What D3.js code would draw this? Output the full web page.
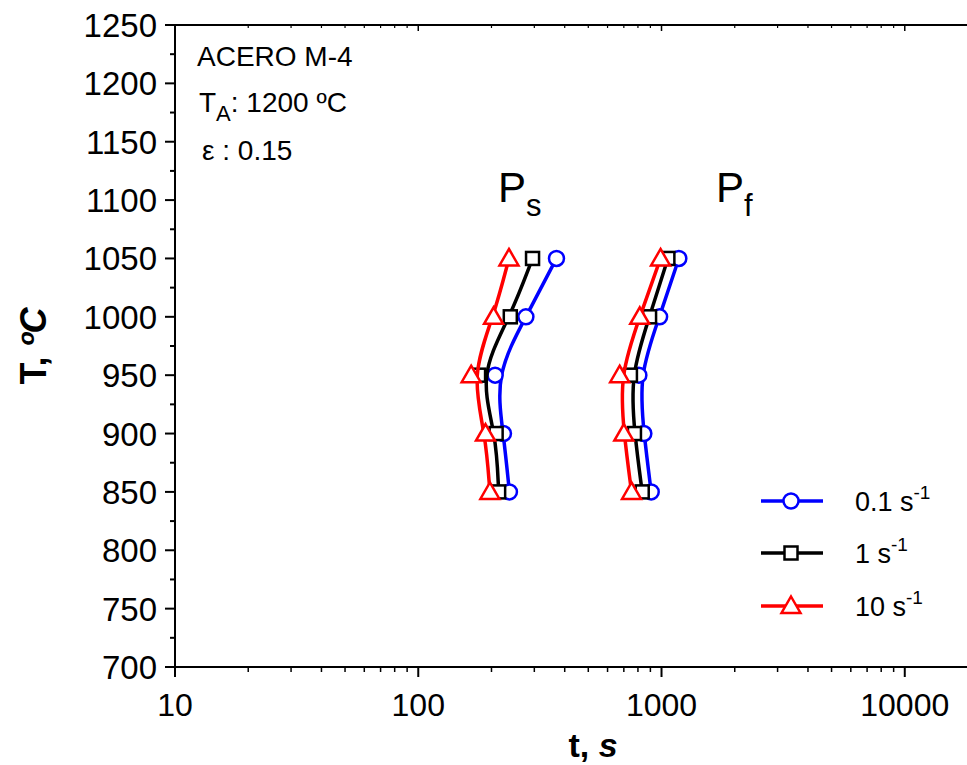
<!DOCTYPE html>
<html><head><meta charset="utf-8">
<script src="https://cdn.jsdelivr.net/npm/d3@7"></script>
<style>body{margin:0;background:#fff;} svg{display:block;font-family:Arial,"Liberation Sans",sans-serif;}</style>
</head><body>
<svg id="c" width="967" height="765"></svg>
<script>
const temps = [850, 900, 950, 1000, 1050];
const ps01 = [237, 224, 207, 277, 370];
const ps1  = [214, 209, 177, 239, 295];
const ps10 = [197, 189, 165, 204, 236];
const pf01 = [907, 846, 807, 982, 1178];
const pf1  = [833, 774, 745, 893, 1062];
const pf10 = [753, 700, 673, 814, 991];
const seriesNames = ["0.1", "1", "10"];
const seriesColors = ["#0000ff", "#000000", "#ff0000"];
const seriesShapes = ["circle", "square", "triangle"];
const xTicks = [10, 100, 1000, 10000];
const yTicks = [700,750,800,850,900,950,1000,1050,1100,1150,1200,1250];

const svg = d3.select("#c");
const x = d3.scaleLog().domain([10, 20000]).range([175, 978]);
const y = d3.scaleLinear().domain([700, 1250]).range([667, 25]);

const xMinor = [];
for (let d = 10; d < 20000; d *= 10) for (let k = 2; k <= 9; k++) if (d*k <= 20000) xMinor.push(d*k);
const yMinor = d3.range(725, 1250, 50);

const g = svg.append("g");
g.append("line").attr("x1", x(10)).attr("x2", 978).attr("y1", y(700)).attr("y2", y(700)).attr("stroke", "#000").attr("stroke-width", 2);
g.append("line").attr("x1", x(10)).attr("x2", 978).attr("y1", y(1250)).attr("y2", y(1250)).attr("stroke", "#000").attr("stroke-width", 2);
g.append("line").attr("x1", x(10)).attr("x2", x(10)).attr("y1", y(700)).attr("y2", y(1250)).attr("stroke", "#000").attr("stroke-width", 2);

xTicks.forEach(v => {
  g.append("line").attr("x1", x(v)).attr("x2", x(v)).attr("y1", y(700)).attr("y2", y(700)+10).attr("stroke","#000").attr("stroke-width",2);
  g.append("line").attr("x1", x(v)).attr("x2", x(v)).attr("y1", y(1250)).attr("y2", y(1250)+6).attr("stroke","#000").attr("stroke-width",1.5);
  g.append("text").attr("x", x(v)).attr("y", 716).attr("text-anchor","middle").attr("font-size", 32).text(v);
});
xMinor.forEach(v => {
  g.append("line").attr("x1", x(v)).attr("x2", x(v)).attr("y1", y(700)).attr("y2", y(700)+5).attr("stroke","#000").attr("stroke-width",1.5);
  g.append("line").attr("x1", x(v)).attr("x2", x(v)).attr("y1", y(1250)).attr("y2", y(1250)+3).attr("stroke","#000").attr("stroke-width",1.2);
});
yTicks.forEach(v => {
  g.append("line").attr("x1", x(10)-10).attr("x2", x(10)).attr("y1", y(v)).attr("y2", y(v)).attr("stroke","#000").attr("stroke-width",2);
  g.append("text").attr("x", 157).attr("y", y(v)+12).attr("text-anchor","end").attr("font-size", 33).text(v);
});
yMinor.forEach(v => {
  g.append("line").attr("x1", x(10)-5).attr("x2", x(10)).attr("y1", y(v)).attr("y2", y(v)).attr("stroke","#000").attr("stroke-width",2);
});

const xt = svg.append("text").attr("x", 593).attr("y", 757).attr("text-anchor","middle").attr("font-size", 34).attr("font-weight","bold");
xt.append("tspan").text("t, ");
xt.append("tspan").attr("font-style","italic").text("s");
const yt = svg.append("text").attr("transform","translate(46,346) rotate(-90)").attr("text-anchor","middle").attr("font-size", 36).attr("font-weight","bold");
yt.append("tspan").text("T, ");
yt.append("tspan").attr("font-style","italic").text("ºC");

const line = d3.line().x(d => x(d[0])).y(d => y(d[1])).curve(d3.curveBasis);
const sets = [[ps01, pf01], [ps1, pf1], [ps10, pf10]];

function marker(sel, shape, color, cx, cy, s) {
  if (shape === "circle") {
    sel.append("circle").attr("cx", cx).attr("cy", cy).attr("r", 7.5*s).attr("fill","#fff").attr("stroke", color).attr("stroke-width", 2.5);
  } else if (shape === "square") {
    const h = 6.5*s;
    sel.append("rect").attr("x", cx-h).attr("y", cy-h).attr("width", 2*h).attr("height", 2*h).attr("fill","#fff").attr("stroke", color).attr("stroke-width", 2.5);
  } else {
    const w = 9.5*s, top = 9.5*s, bot = 7*s;
    sel.append("path").attr("d", `M${cx},${cy-top}L${cx+w},${cy+bot}L${cx-w},${cy+bot}Z`).attr("fill","#fff").attr("stroke", color).attr("stroke-width", 2.5);
  }
}

const plot = svg.append("g");
sets.forEach((pair, i) => {
  pair.forEach(vals => {
    const pts = temps.map((t, j) => [vals[j], t]);
    plot.append("path").attr("d", line(pts)).attr("fill","none").attr("stroke", seriesColors[i]).attr("stroke-width", 3.5);
    pts.forEach(p => marker(plot, seriesShapes[i], seriesColors[i], x(p[0]), y(p[1]), 1));
  });
});

const legY = [501, 553, 606];
seriesNames.forEach((n, i) => {
  svg.append("line").attr("x1", 761).attr("x2", 823).attr("y1", legY[i]).attr("y2", legY[i]).attr("stroke", seriesColors[i]).attr("stroke-width", 3.5);
  marker(svg, seriesShapes[i], seriesColors[i], 791, legY[i], 1);
  const t = svg.append("text").attr("x", 855).attr("y", legY[i]+10).attr("font-size", 27);
  t.append("tspan").text(n + " s");
  t.append("tspan").attr("dy", -12).attr("font-size", 19).text("-1");
});

svg.append("text").attr("x", 197).attr("y", 66).attr("font-size", 28).text("ACERO M-4");
const ta = svg.append("text").attr("x", 199).attr("y", 112).attr("font-size", 28);
ta.append("tspan").text("T");
ta.append("tspan").attr("dy", 9).attr("font-size", 22).text("A");
ta.append("tspan").attr("dy", -9).text(": 1200 ºC");
svg.append("text").attr("x", 202).attr("y", 160).attr("font-size", 28).text("ε : 0.15");

const psT = svg.append("text").attr("x", 498).attr("y", 202).attr("font-size", 42);
psT.append("tspan").text("P");
psT.append("tspan").attr("dy", 14).attr("font-size", 31).text("s");
const pfT = svg.append("text").attr("x", 716).attr("y", 202).attr("font-size", 42);
pfT.append("tspan").text("P");
pfT.append("tspan").attr("dy", 14).attr("font-size", 31).text("f");
</script>
</body></html>
